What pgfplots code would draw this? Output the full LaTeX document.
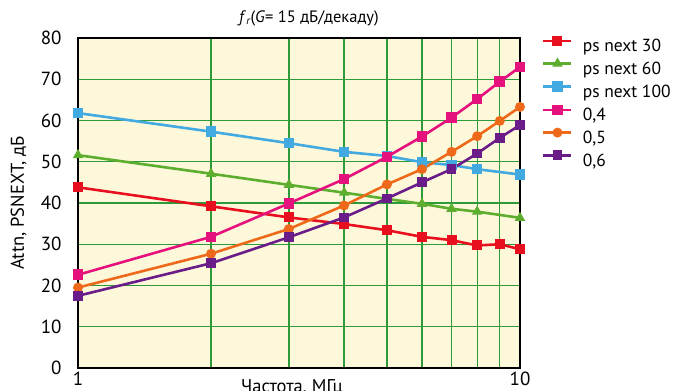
\documentclass[border=0pt]{standalone}
\usepackage{pgfplots}
\pgfplotsset{compat=1.18}
\usepackage{fontspec}
\setmainfont{PT Sans}
\definecolor{bgc}{HTML}{FDF8DA}
\definecolor{gridc}{HTML}{2E9B3A}
\definecolor{cred}{HTML}{E8101E}
\definecolor{cgreen}{HTML}{5DAE2E}
\definecolor{cblue}{HTML}{42A9E1}
\definecolor{cmag}{HTML}{E5127D}
\definecolor{corange}{HTML}{EE6A1A}
\definecolor{cpurple}{HTML}{6A1D89}
\begin{document}
\begin{tikzpicture}
\begin{axis}[
  at={(0,0)}, anchor=south west,
  scale only axis, width=442bp, height=330bp,
  xmode=log, xmin=1, xmax=10, ymin=0, ymax=80,
  xtick={1,10}, xticklabels={1,10},
  minor xtick={2,3,4,5,6,7,8,9},
  ytick={0,10,...,80},
  grid=both,
  major grid style={draw=gridc, line width=1.3bp},
  minor grid style={draw=gridc, line width=1.3bp},
  major tick length=0pt, minor tick length=0pt,
  axis line style={black, line width=1.2bp},
  axis background/.style={fill=bgc},
  /pgf/number format/assume math mode=true,
  tick label style={font=\fontsize{19bp}{22bp}\selectfont},
  yticklabel style={xshift=-13bp},
  xticklabel style={yshift=0bp},
  label style={font=\fontsize{18.5bp}{22bp}\selectfont},
  xlabel={Частота, МГц},
  xlabel style={at={(axis description cs:0.5,0)}, anchor=north, yshift=-8bp, xshift=-7bp},
  ylabel={Attn, PSNEXT, дБ},
  ylabel style={at={(axis description cs:-0.134,0.5)}, anchor=center},
  title={\textit{f}\raisebox{-0.35ex}{\fontsize{11bp}{12bp}\selectfont\textit{r}}(\textit{G}= 15 дБ/декаду)},
  title style={font=\fontsize{16.5bp}{19bp}\selectfont, at={(axis description cs:0.5,1)}, anchor=base, yshift=10bp, xshift=10bp},
  legend style={draw=none, fill=none, at={(axis description cs:1,1)}, anchor=north west,
    xshift=19bp, yshift=3bp,
    font=\fontsize{17.5bp}{21bp}\selectfont,
    nodes={inner sep=0pt, text height=14bp, text depth=4.5bp},
    row sep=3.9bp,
    /tikz/every odd column/.append style={column sep=10bp}},
  legend cell align=left,
  legend image code/.code={\draw[mark repeat=2,mark phase=2, yshift=6bp] plot coordinates {(0bp,0bp) (14bp,0bp) (28bp,0bp)};},
]
\addplot[cred, line width=2.6bp, mark=square*, mark size=3.7bp, mark options={solid}] coordinates {
(1,43.8) (2,39.2) (3,36.5) (4,34.9) (5,33.4) (6,31.8) (7,31.0) (8,29.7) (9,30.0) (10,28.8)};
\addlegendentry{ps next 30}
\addplot[cgreen, line width=2.6bp, mark=triangle*, mark size=3.5bp] coordinates {
(1,51.6) (2,47.1) (3,44.4) (4,42.5) (5,41.0) (6,39.8) (7,38.6) (8,37.9) (10,36.4)};
\addlegendentry{ps next 60}
\addplot[cblue, line width=2.6bp, mark=square*, mark size=4bp] coordinates {
(1,61.8) (2,57.3) (3,54.5) (4,52.4) (5,51.4) (6,49.9) (7,49.2) (8,48.2) (10,46.9)};
\addlegendentry{ps next 100}
\addplot[cmag, line width=2.6bp, mark=square*, mark size=4bp] coordinates {
(1,22.6) (2,31.8) (3,39.9) (4,45.8) (5,51.2) (6,56.1) (7,60.7) (8,65.2) (9,69.4) (10,73.0)};
\addlegendentry{0,4}
\addplot[corange, line width=2.6bp, mark=*, mark size=3.6bp] coordinates {
(1,19.5) (2,27.7) (3,33.7) (4,39.4) (5,44.5) (6,48.2) (7,52.4) (8,56.2) (9,59.9) (10,63.3)};
\addlegendentry{0,5}
\addplot[cpurple, line width=2.6bp, mark=square*, mark size=3.6bp] coordinates {
(1,17.5) (2,25.4) (3,31.7) (4,36.5) (5,41.1) (6,45.0) (7,48.2) (8,52.0) (9,55.8) (10,58.9)};
\addlegendentry{0,6}
\end{axis}
\pgfresetboundingbox
\path (-78bp,-23bp) rectangle (597bp,368bp);
\end{tikzpicture}
\end{document}
